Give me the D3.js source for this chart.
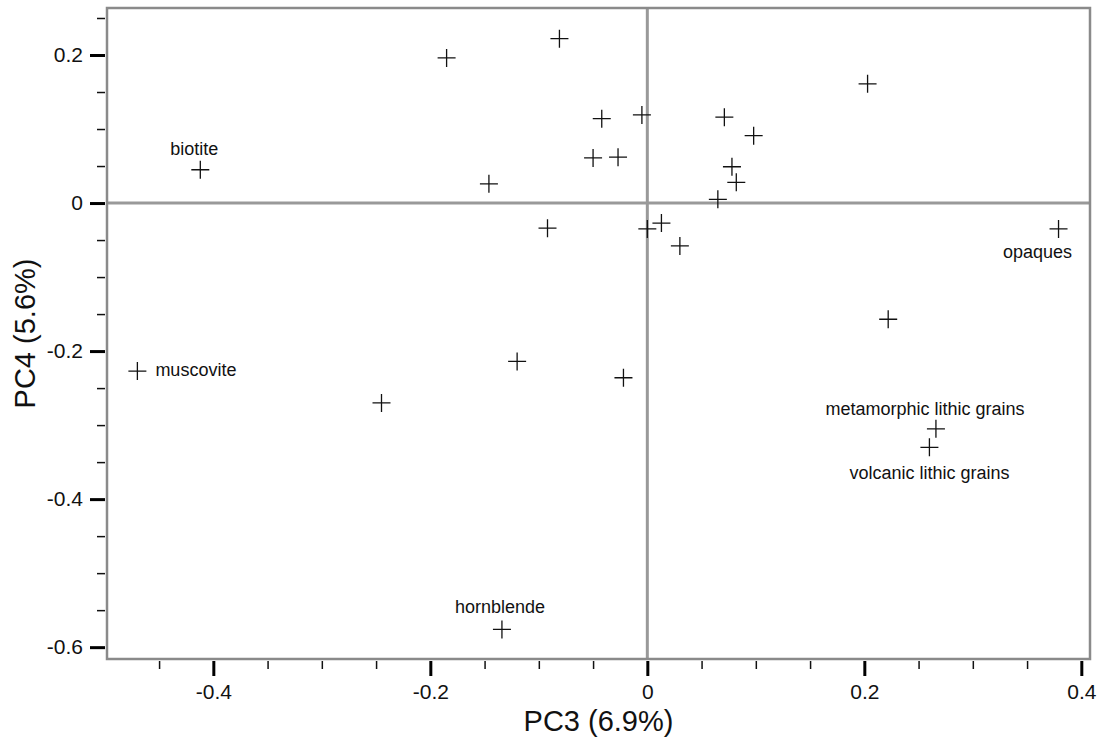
<!DOCTYPE html>
<html>
<head>
<meta charset="utf-8">
<script src="https://cdn.jsdelivr.net/npm/d3@7"></script>
<style>
  body { margin: 0; background: #fff; }
  svg { display: block; font-family: "Liberation Sans", Arial, Helvetica, sans-serif; }
</style>
</head>
<body>
<div id="chart"></div>
<script>
// PC3 / PC4 scores
const pc3 = [-0.185, -0.081, -0.412, -0.146, -0.042, -0.005, -0.050, -0.027, 0.071, 0.098,
             0.203, 0.078, 0.082, 0.065, -0.092, 0.000, 0.013, 0.030, 0.379, -0.470,
             -0.120, -0.022, -0.245, 0.222, 0.266, 0.260, -0.134];
const pc4 = [0.196, 0.222, 0.045, 0.026, 0.114, 0.119, 0.061, 0.062, 0.116, 0.091,
             0.161, 0.049, 0.028, 0.005, -0.034, -0.035, -0.027, -0.058, -0.035, -0.227,
             -0.214, -0.236, -0.270, -0.157, -0.305, -0.330, -0.576];
const names = ["", "", "biotite", "", "", "", "", "", "", "",
               "", "", "", "", "", "", "", "", "opaques", "muscovite",
               "", "", "", "", "metamorphic lithic grains", "volcanic lithic grains", "hornblende"];

const xMajor = [-0.4, -0.2, 0, 0.2, 0.4];
const yMajor = [0.2, 0, -0.2, -0.4, -0.6];
const xTitle = "PC3 (6.9%)";
const yTitle = "PC4 (5.6%)";

// where each label sits relative to its marker (px)
const labelPlace = {
    "biotite": { dx: -6, dy: -21, anchor: "middle" },
    "opaques": { dx: -21, dy: 23, anchor: "middle" },
    "muscovite": { dx: 18, dy: -1, anchor: "start" },
    "metamorphic lithic grains": { dx: -11, dy: -20, anchor: "middle" },
    "volcanic lithic grains": { dx: 0, dy: 25, anchor: "middle" },
    "hornblende": { dx: -2, dy: -23, anchor: "middle" }
};

const width = 1101, height = 740;
const margin = { top: 8, right: 11, bottom: 81, left: 107 };

const svg = d3.select("#chart").append("svg")
    .attr("width", width)
    .attr("height", height);

const x = d3.scaleLinear()
    .domain([-0.498, 0.408])
    .range([margin.left, width - margin.right]);

const y = d3.scaleLinear()
    .domain([-0.616, 0.2635])
    .range([height - margin.bottom, margin.top]);

const points = pc3.map((v, i) => ({ x: v, y: pc4[i], name: names[i] }));

// plain hyphen for negatives, like the original
const fmt = d => d === 0 ? "0" : d3.format(".1f")(d).replace("\u2212", "-");

// minor ticks every 0.05
const xMinor = d3.range(-0.45, 0.41, 0.05).map(v => +v.toFixed(2)).filter(v => !xMajor.some(m => Math.abs(m - v) < 1e-6));
const yMinor = d3.range(-0.6, 0.26, 0.05).map(v => +v.toFixed(2)).filter(v => !yMajor.some(m => Math.abs(m - v) < 1e-6));

const gx = svg.append("g").attr("transform", `translate(0,${height - margin.bottom + 2})`);
gx.append("g")
    .call(d3.axisBottom(x).tickValues(xMinor).tickSize(8).tickFormat(""))
    .call(g => g.select(".domain").remove())
    .call(g => g.selectAll("line").attr("stroke", "#111").attr("stroke-width", 1.5));
gx.append("g")
    .call(d3.axisBottom(x).tickValues(xMajor).tickSize(15).tickPadding(8).tickFormat(fmt))
    .call(g => g.select(".domain").remove())
    .call(g => g.selectAll("line").attr("stroke", "#000").attr("stroke-width", 3))
    .call(g => g.selectAll("text").attr("font-size", 21).attr("fill", "#111"));

const gy = svg.append("g").attr("transform", `translate(${margin.left - 2},0)`);
gy.append("g")
    .call(d3.axisLeft(y).tickValues(yMinor).tickSize(8).tickFormat(""))
    .call(g => g.select(".domain").remove())
    .call(g => g.selectAll("line").attr("stroke", "#111").attr("stroke-width", 1.5));
gy.append("g")
    .call(d3.axisLeft(y).tickValues(yMajor).tickSize(15).tickPadding(7).tickFormat(fmt))
    .call(g => g.select(".domain").remove())
    .call(g => g.selectAll("line").attr("stroke", "#000").attr("stroke-width", 3))
    .call(g => g.selectAll("text").attr("font-size", 21).attr("fill", "#111"));

// zero lines
svg.append("line")
    .attr("x1", x(0)).attr("x2", x(0))
    .attr("y1", y.range()[1]).attr("y2", y.range()[0])
    .attr("stroke", "#999").attr("stroke-width", 3);
svg.append("line")
    .attr("x1", x.range()[0]).attr("x2", x.range()[1])
    .attr("y1", y(0)).attr("y2", y(0))
    .attr("stroke", "#999").attr("stroke-width", 3);

// frame
svg.append("rect")
    .attr("x", x.range()[0]).attr("y", y.range()[1])
    .attr("width", x.range()[1] - x.range()[0])
    .attr("height", y.range()[0] - y.range()[1])
    .attr("fill", "none")
    .attr("stroke", "#8a8a8a")
    .attr("stroke-width", 2.5);

// plus markers
const s = 9;
svg.append("g")
    .selectAll("path")
    .data(points)
    .join("path")
    .attr("d", d => {
        const px = x(d.x), py = y(d.y);
        return `M${px - s},${py}H${px + s}M${px},${py - s}V${py + s}`;
    })
    .attr("stroke", "#111")
    .attr("stroke-width", 1.3)
    .attr("fill", "none");

// labels
svg.append("g")
    .selectAll("text")
    .data(points.filter(d => d.name))
    .join("text")
    .attr("x", d => x(d.x) + labelPlace[d.name].dx)
    .attr("y", d => y(d.y) + labelPlace[d.name].dy)
    .attr("dy", "0.35em")
    .attr("text-anchor", d => labelPlace[d.name].anchor)
    .attr("font-size", 18)
    .attr("fill", "#111")
    .text(d => d.name);

// axis titles
svg.append("text")
    .attr("x", (x.range()[0] + x.range()[1]) / 2)
    .attr("y", 731)
    .attr("text-anchor", "middle")
    .attr("font-size", 29)
    .attr("fill", "#111")
    .text(xTitle);

svg.append("text")
    .attr("transform", `translate(35,${(y.range()[0] + y.range()[1]) / 2}) rotate(-90)`)
    .attr("text-anchor", "middle")
    .attr("font-size", 29)
    .attr("fill", "#111")
    .text(yTitle);
</script>
</body>
</html>
